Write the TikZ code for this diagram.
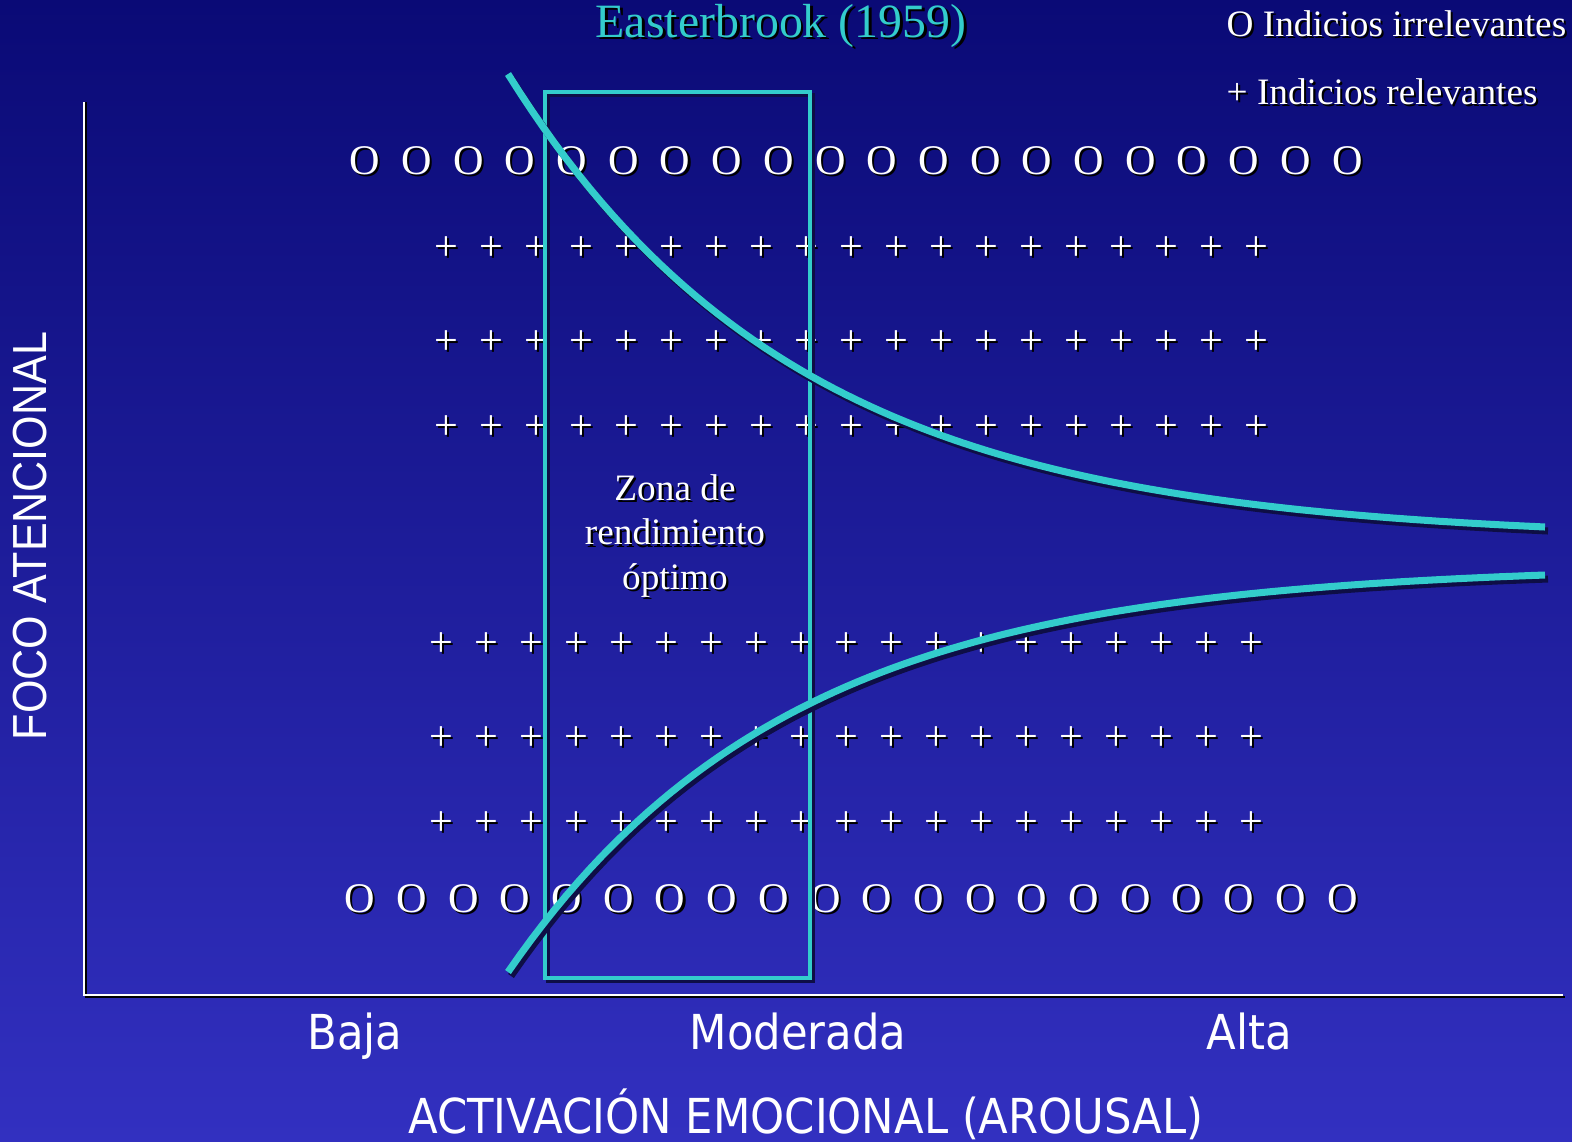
\documentclass[tikz,border=0pt]{standalone}
\usepackage{fontspec}
\setmainfont{Liberation Serif}
\newfontfamily\axisfont{DejaVu Sans}[FakeStretch=0.9]
\newfontfamily\focofont{Liberation Sans}[FakeStretch=0.9]
\usetikzlibrary{positioning}

\definecolor{cueteal}{RGB}{51,204,204}
\definecolor{bgtop}{RGB}{10,10,118}
\definecolor{bgbottom}{RGB}{50,48,192}
\definecolor{shadenavy}{RGB}{14,14,70}

% text with a small black drop shadow
\newcommand\shd[2][0.6pt]{\makebox[0pt][l]{\kern#1\raisebox{-#1}{\color{black}#2}}#2}

\begin{document}
\begin{tikzpicture}[x=0.01cm, y=-0.01cm,
    cue/.style={text=white, inner sep=0pt, anchor=base,
                font=\fontsize{12}{14}\selectfont},
    legend/.style={text=white, inner sep=0pt, anchor=base west,
                   font=\fontsize{10.6}{13}\selectfont},
    tick/.style={text=white, inner sep=0pt, anchor=base,
                 font=\axisfont\fontsize{13.7}{16}\selectfont},
    curve/.style={draw=cueteal, line width=2pt},
    curveshade/.style={draw=shadenavy, line width=2pt, shift={(3,4)}},
    axis/.style={draw=white, line width=0.6pt},
]
\fill[top color=bgtop, bottom color=bgbottom] (0,0) rectangle (1572,1142);
\useasboundingbox (0,0) rectangle (1572,1142);

% title and legend
\node[text=cueteal, inner sep=0pt, anchor=base, font=\fontsize{13.6}{16}\selectfont]
   (title) at (781,37) {\shd[0.8pt]{Easterbrook (1959)}};
\node[legend] (irrel) at (1226,36) {\shd{O Indicios irrelevantes}};
\node[legend] (rel) at (1226,104) {\shd{+ Indicios relevantes}};

% axes
\draw[black, line width=0.6pt] (86,102) -- (86,997) -- (1565,997);
\draw[axis] (84,102) -- (84,995) -- (1563,995);

% cues
\foreach \i in {0,...,19} {
  \node[cue] (otop\i) at (365+51.7*\i,174) {\shd{O}};
  \node[cue] (obot\i) at (360+51.7*\i,912) {\shd{O}};
}
\foreach \y [count=\r] in {260,354,439} {
  \foreach \i in {0,...,18}
    \node[cue] (ptop\r-\i) at (446+45*\i,\y) {\shd{+}};
}
\foreach \y [count=\r] in {656,750,835} {
  \foreach \i in {0,...,18}
    \node[cue] (pbot\r-\i) at (441+45*\i,\y) {\shd{+}};
}

% optimal zone
\draw[shadenavy, line width=1.1pt, shift={(3,3)}] (545,92) rectangle (810,978);
\draw[cueteal, line width=1.1pt] (545,92) rectangle (810,978);
\node[text=white, align=center, font=\fontsize{10.6}{12.7}\selectfont]
   (zone) at (675,537) {\shd{Zona de}\\\shd{rendimiento}\\\shd{óptimo}};

% attention curves
\draw[curveshade] plot[domain=508:1545, samples=90] (\x,{540-466*exp(-(\x-508)/290)});
\draw[curve] plot[domain=508:1545, samples=90] (\x,{540-466*exp(-(\x-508)/290)});
\draw[curveshade] plot[domain=508:1545, samples=90] (\x,{565+407*exp(-(\x-508)/280)});
\draw[curve] plot[domain=508:1545, samples=90] (\x,{565+407*exp(-(\x-508)/280)});

% axis labels
\node[tick] (baja) at (355,1049) {Baja};
\node[tick] (moderada) at (798,1049) {Moderada};
\node[tick] (alta) at (1249,1049) {Alta};
\node[tick] (xlabel) at (806,1133) {ACTIVACIÓN EMOCIONAL (AROUSAL)};
\node[text=white, inner sep=0pt, anchor=base, rotate=90,
      font=\focofont\fontsize{13.6}{16}\selectfont] (ylabel) at (47,536) {FOCO ATENCIONAL};
\end{tikzpicture}
\end{document}
